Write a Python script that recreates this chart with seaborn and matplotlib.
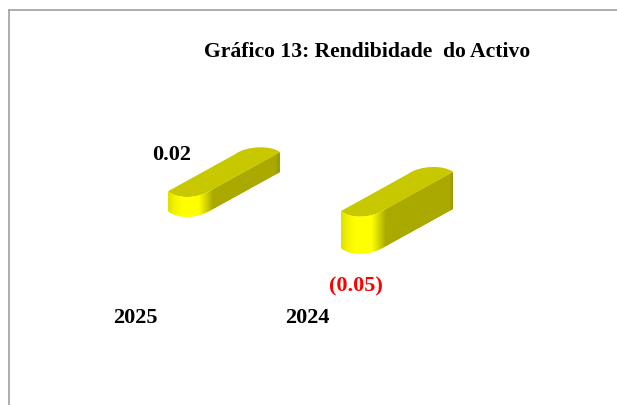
# Rendibilidade do Activo - yellow pseudo 3D bars on top of a seaborn barplot
import numpy as np
import matplotlib
matplotlib.use('Agg')
import matplotlib.pyplot as plt
from matplotlib.colors import LinearSegmentedColormap
from matplotlib.patches import PathPatch
from matplotlib.path import Path
import seaborn as sns

years = ['2025', '2024']
values = [0.024, -0.045]
value_labels = ['0.02', '(0.05)']
label_colors = ['black', 'red']
title = 'Gráfico 13: Rendibidade  do Activo'

sns.set_theme(style='white')
plt.rcParams['font.family'] = ['Liberation Serif', 'DejaVu Serif']

W, H = 617, 405
fig = plt.figure(figsize=(W / 100, H / 100), dpi=100)
ax = fig.add_axes([9 / W, 0, (W - 9) / W, (H - 10) / H])

# one category step = 173 px, one unit of y = 822 px, zero line at y = 211 px
PX = 1 / 173
PY = 1 / 822
sns.barplot(x=years, y=values, color='#ffff00', width=45 * PX, ax=ax)
ax.set_ylabel('')

front_cmap = LinearSegmentedColormap.from_list(
    'front', [(0, '#dede00'), (0.15, '#f4f400'), (0.32, '#ffff00'), (0.68, '#ffff00'),
              (0.85, '#d4d400'), (1, '#a9a900')])
side_cmap = LinearSegmentedColormap.from_list(
    'side', [(0, '#a9a900'), (0.94, '#a9a900'), (0.985, '#969600'), (1, '#a4a400')])
ramp = np.linspace(0, 1, 256).reshape(1, -1)
DX, DY = 67 * PX, 37 * PY


def shade(patch, cmap, x0, x1, y0, y1):
    img = ax.imshow(ramp, cmap=cmap, aspect='auto', extent=(x0, x1, y0, y1),
                    zorder=patch.get_zorder(), interpolation='bilinear')
    img.set_clip_path(patch)


for bar in list(ax.patches):
    left = bar.get_x()
    right = left + bar.get_width()
    top = max(bar.get_y(), bar.get_y() + bar.get_height())
    bottom = min(bar.get_y(), bar.get_y() + bar.get_height())
    bar.set_visible(False)

    c1 = (9 * PX, -8 * PY)
    c2 = (30 * PX, -8 * PY)
    rise = 2 * PY

    # side wall
    side = Path([(right, top + rise), (right + DX, top + rise + DY),
                 (right + DX, bottom + rise + DY), (right, bottom + rise),
                 (right, top + rise)],
                [Path.MOVETO, Path.LINETO, Path.LINETO, Path.LINETO, Path.CLOSEPOLY])
    p = PathPatch(side, fc='#a9a900', ec='none', zorder=3)
    ax.add_patch(p)
    shade(p, side_cmap, right, right + DX, bottom, top + rise + DY + 0.01)

    # top face, stadium shaped
    verts = [(left, top),
             (left + c1[0], top + c1[1]), (left + c2[0], top + c2[1]), (right, top + rise),
             (right + DX, top + rise + DY),
             (right + DX - 8 * PX, top + rise + DY + 7 * PY),
             (left + DX + 12 * PX, top + DY + 9 * PY),
             (left + DX, top + DY),
             (left, top)]
    codes = [Path.MOVETO, Path.CURVE4, Path.CURVE4, Path.CURVE4, Path.LINETO,
             Path.CURVE4, Path.CURVE4, Path.CURVE4, Path.CLOSEPOLY]
    ax.add_patch(PathPatch(Path(verts, codes), fc='#c8c800', ec='none', zorder=4))

    # rounded front
    verts = [(left, top),
             (left + c1[0], top + c1[1]), (left + c2[0], top + c2[1]), (right, top + rise),
             (right, bottom + rise),
             (left + c2[0], bottom + c2[1]), (left + c1[0], bottom + c1[1]), (left, bottom),
             (left, top)]
    codes = [Path.MOVETO, Path.CURVE4, Path.CURVE4, Path.CURVE4, Path.LINETO,
             Path.CURVE4, Path.CURVE4, Path.CURVE4, Path.CLOSEPOLY]
    p = PathPatch(Path(verts, codes), fc='#ffff00', ec='none', zorder=5)
    ax.add_patch(p)
    shade(p, front_cmap, left, right, bottom - 12 * PY, top + 5 * PY)

ax.set_xlim(-(190.5 - 9) * PX, (W - 190.5) * PX)
ax.set_ylim(-(H - 211) * PY, (211 - 10) * PY)

# year labels sit left of the bars, the depth pushes the bars to the right
tick_shift = [-55 * PX, -56 * PX]
ax.set_xticks([i + tick_shift[i] for i in range(len(years))], years)
ax.spines['bottom'].set_position(('data', (211 - 308) * PY))
ax.tick_params(axis='x', length=0, pad=0, labelsize=16)
for t in ax.get_xticklabels():
    t.set_fontweight('bold')
    t.set_color('black')
ax.set_yticks([])

for s in ['bottom', 'right']:
    ax.spines[s].set_visible(False)
for s in ['left', 'top']:
    ax.spines[s].set_color('#a0a0a0')
    ax.spines[s].set_linewidth(1.2)

# value labels, placed next to the end of each bar
label_dx = [-19 * PX, -7.5 * PX]
label_dy = [36.3 * PY, -38.5 * PY]
for i, v in enumerate(values):
    ax.text(i + label_dx[i], v + label_dy[i], value_labels[i], color=label_colors[i],
            ha='center', va='center', fontsize=16, fontweight='bold', zorder=6)

ax.text((367 - 9) / (W - 9), 1 - (52 - 10) / (H - 10), title, transform=ax.transAxes,
        ha='center', va='center', fontsize=15.6, fontweight='bold', color='black')

fig.savefig('out.png', dpi=100)
